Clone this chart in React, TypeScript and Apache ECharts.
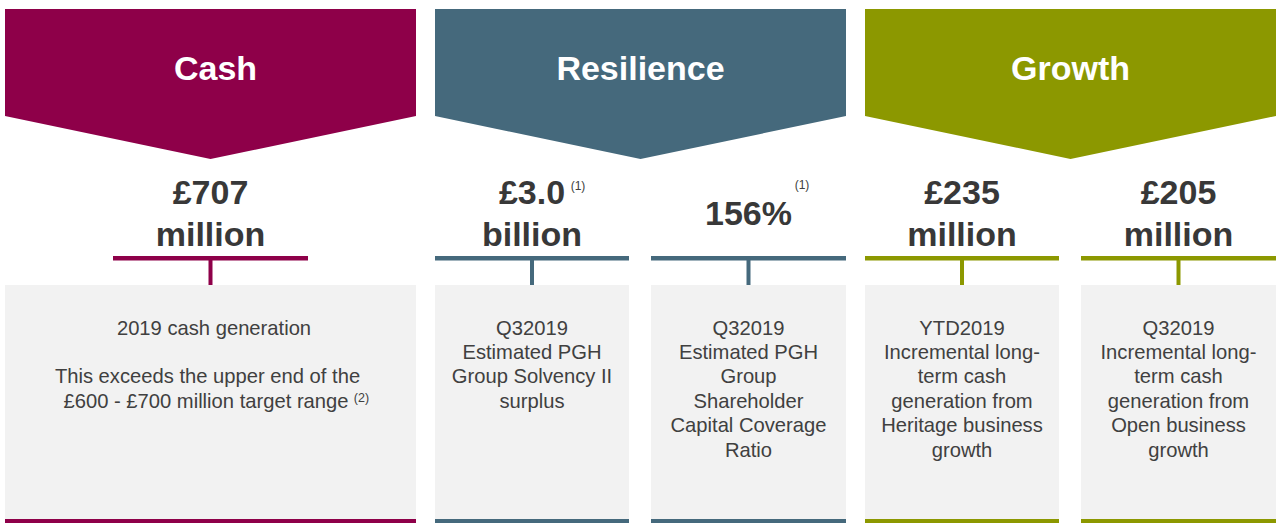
import React, { useEffect, useRef } from "react";
import * as echarts from "echarts";

// ---- data ----
const sectionTitles = ["Cash", "Resilience", "Growth"];
const sectionColors = ["#8E0049", "#45697C", "#8C9800"];

const cardSection = [0, 1, 1, 2, 2];
const cardValues = ["£707", "£3.0", "156%", "£235", "£205"];
const cardUnits = ["million", "billion", "", "million", "million"];
const cardNotes = ["", "(1)", "(1)", "", ""];
const cardDescriptions = [
  ["2019 cash generation", "", "This exceeds the upper end of the", "£600 - £700 million target range"],
  ["Q32019", "Estimated PGH", "Group Solvency II", "surplus"],
  ["Q32019", "Estimated PGH", "Group", "Shareholder", "Capital Coverage", "Ratio"],
  ["YTD2019", "Incremental long-", "term cash", "generation from", "Heritage business", "growth"],
  ["Q32019", "Incremental long-", "term cash", "generation from", "Open business", "growth"],
];
const descriptionNote = "(2)";

// ---- layout (not data) ----
const FONT = "'Liberation Sans', Arial, sans-serif";
const sectionX = [
  [5, 416],
  [435, 846],
  [865, 1276],
];
const titleShift = [5, 0, 0];
const cardX = [
  [5, 416],
  [435, 629],
  [651, 846],
  [865, 1059],
  [1081, 1276],
];
const cardLineX = [
  [113, 308],
  [435, 629],
  [651, 846],
  [865, 1059],
  [1081, 1276],
];
const firstCardLineShift = [3.5, 0, -3, -4.5];
const notePos = [null, [578, 186], [802, 185], null, null];
const LINE_H = 24.4;

export default function App() {
  const ref = useRef<HTMLDivElement>(null);

  useEffect(() => {
    document.body.style.margin = "0";
    const chart = echarts.init(ref.current!, null, { renderer: "svg" });
    const els: any[] = [];

    // chevrons
    sectionTitles.forEach((title, i) => {
      const [x0, x1] = sectionX[i];
      const mid = (x0 + x1) / 2;
      els.push({
        type: "polygon",
        shape: {
          points: [
            [x0, 9],
            [x1, 9],
            [x1, 116],
            [mid, 159],
            [x0, 116],
          ],
        },
        style: { fill: sectionColors[i] },
      });
      els.push({
        type: "text",
        x: mid + titleShift[i],
        y: 68,
        style: {
          text: title,
          fill: "#ffffff",
          font: `bold 34px ${FONT}`,
          textAlign: "center",
          textVerticalAlign: "middle",
        },
      });
    });

    // cards
    cardValues.forEach((val, i) => {
      const color = sectionColors[cardSection[i]];
      const [x0, x1] = cardX[i];
      const cx = (x0 + x1) / 2;
      const [lx0, lx1] = cardLineX[i];
      const unit = cardUnits[i];
      const big = { fill: "#383838", font: `bold 34px ${FONT}`, textAlign: "center", textVerticalAlign: "middle" };

      if (unit) {
        els.push({ type: "text", x: cx, y: 192, style: { ...big, text: val } });
        els.push({ type: "text", x: cx, y: 234, style: { ...big, text: unit } });
      } else {
        els.push({ type: "text", x: cx, y: 213, style: { ...big, text: val } });
      }
      const np = notePos[i];
      if (cardNotes[i] && np) {
        els.push({
          type: "text",
          x: np[0],
          y: np[1],
          style: { text: cardNotes[i], fill: "#404040", font: `12px ${FONT}`, textAlign: "center", textVerticalAlign: "middle" },
        });
      }

      // connector
      els.push({ type: "rect", shape: { x: lx0, y: 256, width: lx1 - lx0, height: 4.5 }, style: { fill: color } });
      els.push({ type: "rect", shape: { x: cx - 2, y: 258, width: 4, height: 28 }, style: { fill: color } });

      // box
      els.push({ type: "rect", shape: { x: x0, y: 285, width: x1 - x0, height: 234 }, style: { fill: "#F2F2F2" } });
      els.push({ type: "rect", shape: { x: x0, y: 519, width: x1 - x0, height: 5 }, style: { fill: color } });

      cardDescriptions[i].forEach((line, k) => {
        if (!line) return;
        els.push({
          type: "text",
          x: cx + (i === 0 ? firstCardLineShift[k] : 0),
          y: 327.5 + k * LINE_H,
          style: {
            text: line,
            fill: "#404040",
            font: `20.2px ${FONT}`,
            textAlign: "center",
            textVerticalAlign: "middle",
          },
        });
      });
    });

    els.push({
      type: "text",
      x: 361.5,
      y: 397.5,
      style: { text: descriptionNote, fill: "#404040", font: `12.5px ${FONT}`, textAlign: "center", textVerticalAlign: "middle" },
    });

    chart.setOption({
      animation: false,
      backgroundColor: "#ffffff",
      graphic: { elements: els },
    });
    return () => chart.dispose();
  }, []);

  return <div ref={ref} style={{ width: 1281, height: 523 }} />;
}
